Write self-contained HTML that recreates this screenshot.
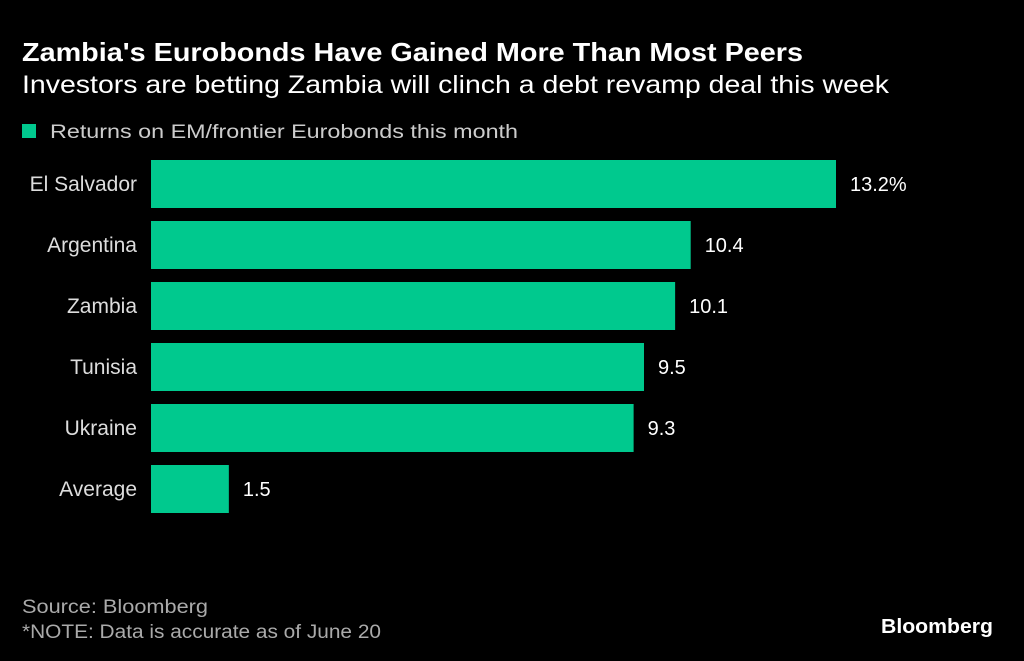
<!DOCTYPE html>
<html><head><meta charset="utf-8"><style>
html,body{margin:0;padding:0;background:#000;}
svg{display:block;font-family:"Liberation Sans",sans-serif;}
</style></head><body>
<svg id="chart" width="1024" height="661" viewBox="0 0 1024 661">
<rect width="1024" height="661" fill="#000"/>
<text x="22" y="61" fill="#fff" font-size="26" font-weight="bold" textLength="781" lengthAdjust="spacingAndGlyphs">Zambia's Eurobonds Have Gained More Than Most Peers</text>
<text x="22" y="93" fill="#fff" font-size="25" textLength="867" lengthAdjust="spacingAndGlyphs">Investors are betting Zambia will clinch a debt revamp deal this week</text>
<rect x="22" y="124" width="14" height="14" fill="#00c98e"/>
<text x="50" y="138" fill="#ccc" font-size="19" textLength="468" lengthAdjust="spacingAndGlyphs">Returns on EM/frontier Eurobonds this month</text>
<g id="bars"></g>
<text x="22" y="613" fill="#aaa" font-size="19" textLength="186" lengthAdjust="spacingAndGlyphs">Source: Bloomberg</text>
<text x="22" y="638" fill="#aaa" font-size="19" textLength="359" lengthAdjust="spacingAndGlyphs">*NOTE: Data is accurate as of June 20</text>
<text x="993" y="633" fill="#fff" font-size="20" font-weight="bold" text-anchor="end" textLength="112" lengthAdjust="spacingAndGlyphs">Bloomberg</text>
</svg>
<script>
const categories = ["El Salvador","Argentina","Zambia","Tunisia","Ukraine","Average"];
const values = [13.2,10.4,10.1,9.5,9.3,1.5];
const valueLabels = ["13.2%","10.4","10.1","9.5","9.3","1.5"];
const ns="http://www.w3.org/2000/svg";
const g=document.getElementById('bars');
const x0=151, pxPerUnit=685/13.2;
function xScale(v){return x0+v*pxPerUnit;}
function yScale(i){return 160+i*61;}
categories.forEach((c,i)=>{
  const y=yScale(i);
  const r=document.createElementNS(ns,'rect');
  r.setAttribute('x',x0);r.setAttribute('y',y);
  r.setAttribute('width',xScale(values[i])-x0);r.setAttribute('height',48);
  r.setAttribute('fill','#00c98e');
  
  
  g.appendChild(r);
  const t=document.createElementNS(ns,'text');
  t.setAttribute('x',137);t.setAttribute('y',y+31);
  t.setAttribute('text-anchor','end');t.setAttribute('fill','#ddd');t.setAttribute('font-size','21');
  t.textContent=c;
  
  
  g.appendChild(t);
  const v=document.createElementNS(ns,'text');
  v.setAttribute('x',xScale(values[i])+14);v.setAttribute('y',y+31);
  v.setAttribute('fill','#fff');v.setAttribute('font-size','20');
  v.textContent=valueLabels[i];
  
  
  g.appendChild(v);
});
</script>
</body></html>
